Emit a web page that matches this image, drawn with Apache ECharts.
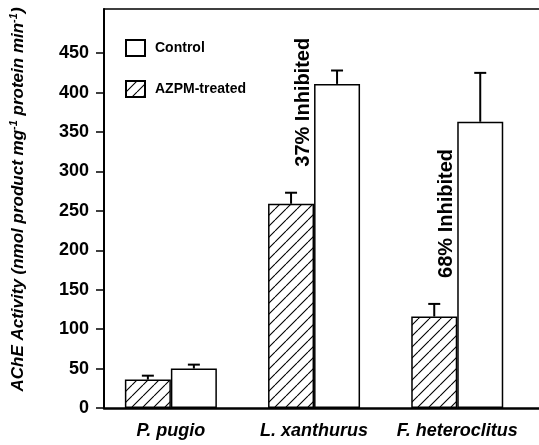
<!DOCTYPE html>
<html><head><meta charset="utf-8">
<script src="https://cdn.jsdelivr.net/npm/echarts@6/dist/echarts.min.js"></script>
<style>html,body{margin:0;padding:0;background:#fff}#c{width:539px;height:445px}</style>
</head><body><div id="c"></div>
<script>
const categories = ['P. pugio', 'L. xanthurus', 'F. heteroclitus'];
const treated = [36, 259, 116];
const treatedErr = [5, 14, 16];
const control = [50, 411, 363];
const controlErr = [5, 17, 62];
const inhibition = [null, 37, 68];
const yTicks = [0, 50, 100, 150, 200, 250, 300, 350, 400, 450];

const FONT = '"Liberation Sans", Arial, Helvetica, sans-serif';
const BAR_W = 46;
const X_MIN = -0.467, X_MAX = 2.571;

function hatch() {
  const W = 11, H = 11;
  const c = document.createElement('canvas');
  c.width = W; c.height = H;
  const g = c.getContext('2d');
  g.fillStyle = '#fff'; g.fillRect(0, 0, W, H);
  g.strokeStyle = '#000'; g.lineWidth = 1.1;
  g.beginPath();
  for (const dx of [-W, 0, W]) { g.moveTo(dx, H); g.lineTo(dx + W, 0); }
  g.stroke();
  return { image: c, repeat: 'repeat' };
}

function errRenderer(offset) {
  return function (params, api) {
    const i = api.value(0), v = api.value(1), e = api.value(2);
    const p0 = api.coord([i, v]);
    const p1 = api.coord([i, v + e]);
    const x = p0[0] + offset;
    const st = { stroke: '#000', lineWidth: 2 };
    return { type: 'group', children: [
      { type: 'line', shape: { x1: x, y1: p0[1], x2: x, y2: p1[1] }, style: st },
      { type: 'line', shape: { x1: x - 6, y1: p1[1], x2: x + 6, y2: p1[1] }, style: st }
    ]};
  };
}

const chart = echarts.init(document.getElementById('c'), null, { renderer: 'canvas' });
chart.setOption({
  animation: false,
  backgroundColor: '#fff',
  grid: { left: 103, top: 9, right: 0, bottom: 37 },
  legend: {
    orient: 'vertical', left: 125, top: 39, padding: 0,
    itemWidth: 19, itemHeight: 16, itemGap: 23, icon: 'rect',
    data: ['Control', 'AZPM-treated'],
    textStyle: { fontFamily: FONT, fontSize: 14, fontWeight: 'bold', color: '#000', padding: [0, 0, 0, 5] }
  },
  xAxis: [{
    type: 'value', min: X_MIN, max: X_MAX,
    splitLine: { show: false },
    axisLine: { show: true, onZero: false, lineStyle: { color: '#000', width: 2.5 } },
    axisTick: { show: false },
    axisLabel: {
      customValues: [0, 1, 2],
      formatter: v => categories[Math.round(v)],
      fontFamily: FONT, fontSize: 18, fontWeight: 'bold', fontStyle: 'italic', color: '#000', margin: 14
    }
  }, {
    type: 'value', position: 'top', min: X_MIN, max: X_MAX,
    splitLine: { show: false },
    axisLine: { show: true, onZero: false, lineStyle: { color: '#000', width: 1.5 } },
    axisTick: { show: false }, axisLabel: { show: false }
  }],
  yAxis: {
    type: 'value', min: 0, max: 506,
    splitLine: { show: false },
    axisLine: { show: true, onZero: false, lineStyle: { color: '#000', width: 2 } },
    axisTick: { show: true, customValues: yTicks, length: 8, lineStyle: { color: '#000', width: 1.5 } },
    axisLabel: { customValues: yTicks, fontFamily: FONT, fontSize: 18, fontWeight: 'bold', color: '#000', margin: 15 },
    name: '{t|AChE Activity (nmol product mg}{s|-1}{t| protein min}{s|-1}{t|)}',
    nameLocation: 'middle', nameRotate: 90, nameGap: 76,
    nameTextStyle: {
      padding: [0, 0, 0, 18],
      rich: {
        t: { fontFamily: FONT, fontSize: 17, fontWeight: 'bold', fontStyle: 'italic', color: '#000', lineHeight: 20 },
        s: { fontFamily: FONT, fontSize: 11, fontWeight: 'bold', fontStyle: 'italic', color: '#000', verticalAlign: 'top', lineHeight: 20 }
      }
    }
  },
  series: [
    { name: 'AZPM-treated', type: 'bar', barWidth: BAR_W, barGap: '0%',
      data: treated.map((v, i) => [i, v]),
      itemStyle: { color: hatch(), borderColor: '#000', borderWidth: 1.5 } },
    { name: 'Control', type: 'bar', barWidth: BAR_W, barGap: '0%',
      data: control.map((v, i) => [i, v]),
      itemStyle: { color: '#fff', borderColor: '#000', borderWidth: 1.5 } },
    { type: 'custom', z: 5, renderItem: errRenderer(-BAR_W / 2),
      data: treated.map((v, i) => [i, v, treatedErr[i]]) },
    { type: 'custom', z: 5, renderItem: errRenderer(BAR_W / 2),
      data: control.map((v, i) => [i, v, controlErr[i]]) },
    { type: 'custom', z: 6,
      data: inhibition.map((p, i) => [i, treated[i] + treatedErr[i], p]).filter(d => d[2] != null),
      renderItem: function (params, api) {
        const p = api.coord([api.value(0), api.value(1)]);
        return { type: 'text', x: p[0] - 10.5, y: p[1] - 26, rotation: Math.PI / 2,
          style: { text: api.value(2) + '% Inhibited', align: 'left', verticalAlign: 'middle',
            font: 'bold 20px ' + FONT, fill: '#000' } };
      } }
  ]
});
</script></body></html>
